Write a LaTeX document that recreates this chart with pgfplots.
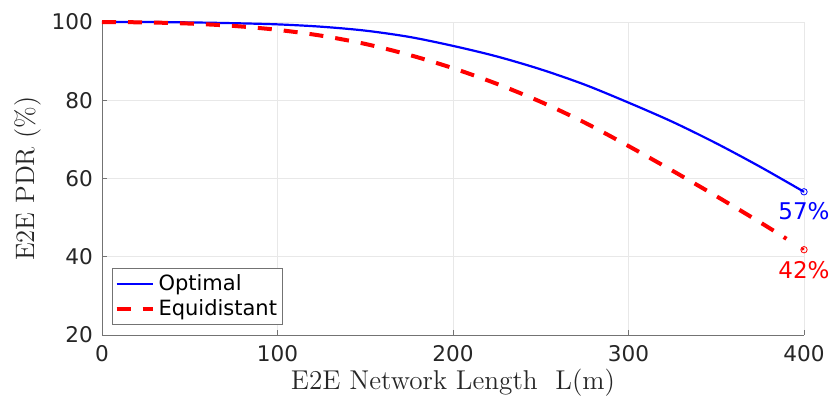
\documentclass[border=0pt]{standalone}
\usepackage{pgfplots}
\pgfplotsset{compat=1.18}
\usepackage{fontspec}
\newfontfamily\dejavu{DejaVu Sans}
\definecolor{axgray}{rgb}{0.45,0.45,0.45}
\definecolor{txtgray}{rgb}{0.15,0.15,0.15}
\definecolor{gridgray}{rgb}{0.91,0.91,0.91}
\begin{document}
\begin{tikzpicture}
\begin{axis}[
  scale only axis,
  width=351pt, height=156.5pt,
  xmin=0, xmax=400, ymin=20, ymax=100,
  xtick={0,100,200,300,400},
  ytick={20,40,60,80,100},
  axis x line*=bottom, axis y line*=left,
  axis line style={color=axgray, line width=0.5pt, -},
  tick align=inside,
  major tick length=2.5pt,
  every tick/.style={color=axgray, line width=0.5pt},
  grid=major,
  major grid style={color=gridgray, line width=0.5pt},
  /pgf/number format/assume math mode=true,
  tick label style={font=\dejavu\fontsize{10.8}{12}\selectfont, text=txtgray},
  xticklabel style={yshift=-1.5pt},
  yticklabel style={xshift=-1pt},
  xlabel={E2E Network Length\ \ L(m)},
  ylabel={E2E PDR (\%)},
  xlabel style={font=\fontsize{13.6}{15}\selectfont, text=txtgray, at={(axis description cs:0.5,0)}, anchor=center, yshift=-24pt},
  ylabel style={font=\fontsize{13.3}{15}\selectfont, text=txtgray, at={(axis description cs:0,0.5)}, anchor=center, yshift=37pt},
  legend style={at={(0,0)}, anchor=south west, xshift=5pt, yshift=5pt,
    draw=axgray, line width=0.5pt, font=\dejavu\fontsize{10.5}{12}\selectfont,
    inner xsep=1pt, inner ysep=1pt, row sep=-1pt},
  legend cell align=left,
  legend image code/.code={\draw[#1] (0pt,0pt) -- (18pt,0pt);},
  clip=false,
]
\addplot[blue, line width=1.1pt, smooth] coordinates {
(0,100) (25,100) (50,99.9) (75,99.7) (100,99.4) (125,98.8) (150,97.8) (175,96.2)
(200,93.9) (225,91.2) (250,87.9) (275,84.0) (300,79.4) (325,74.5) (350,69.0) (375,63.0) (400,56.6)};
\addlegendentry{Optimal}
\addplot[red, line width=2pt, dash pattern=on 7pt off 6pt, smooth] coordinates {
(0,100) (25,99.9) (50,99.6) (75,99.0) (100,98.0) (125,96.5) (150,94.4) (175,91.6)
(200,88.2) (225,84.2) (250,79.6) (275,74.3) (300,68.3) (325,62.0) (350,55.5) (375,48.8) (390,44.6)};
\addlegendentry{Equidistant}
\addplot[blue, only marks, mark=o, mark size=1.6pt, mark options={line width=0.4pt}, forget plot] coordinates {(400,56.6)};
\addplot[red, only marks, mark=o, mark size=1.6pt, mark options={line width=0.4pt}, forget plot] coordinates {(400,41.8)};
\addplot[red, only marks, mark=*, mark size=0.6pt, forget plot] coordinates {(399.3,42.0)};
\node[blue, font=\dejavu\fontsize{11.5}{13}\selectfont, anchor=center, yshift=-9.7pt] at (axis cs:400,56.6) {57\%};
\node[red, font=\dejavu\fontsize{11.5}{13}\selectfont, anchor=center, yshift=-10pt] at (axis cs:400,41.8) {42\%};
\end{axis}
\pgfresetboundingbox
\path[use as bounding box] (-51pt,-31.5pt) rectangle (368pt,167.5pt);
\end{tikzpicture}
\end{document}
